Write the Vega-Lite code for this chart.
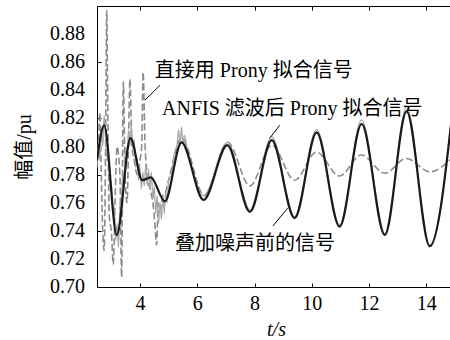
{
  "$schema": "https://vega.github.io/schema/vega-lite/v6.json",
  "width": 358,
  "height": 281,
  "autosize": "none",
  "padding": {"left": 97, "top": 6, "right": 0, "bottom": 53},
  "background": "white",
  "config": {
    "view": {"stroke": "black", "strokeWidth": 1},
    "axis": {
      "labelFont": "Liberation Serif, Times New Roman, serif",
      "labelFontSize": 20,
      "labelColor": "black",
      "labelOverlap": false,
      "titleFont": "Liberation Serif, Noto Sans CJK SC",
      "titleFontSize": 20,
      "titleFontWeight": "normal",
      "titleColor": "black",
      "grid": false,
      "domain": false,
      "tickColor": "black",
      "tickSize": -4
    }
  },
  "resolve": {"axis": {"x": "independent"}},
  "datasets": {
    "direct": [
      {"t": 2.50, "v": 0.790}, {"t": 2.55, "v": 0.800}, {"t": 2.60, "v": 0.824}, {"t": 2.65, "v": 0.780},
      {"t": 2.70, "v": 0.740}, {"t": 2.75, "v": 0.726}, {"t": 2.80, "v": 0.800}, {"t": 2.84, "v": 0.897},
      {"t": 2.88, "v": 0.820}, {"t": 2.93, "v": 0.750}, {"t": 3.00, "v": 0.740}, {"t": 3.07, "v": 0.716},
      {"t": 3.13, "v": 0.760}, {"t": 3.20, "v": 0.800}, {"t": 3.30, "v": 0.780}, {"t": 3.36, "v": 0.707},
      {"t": 3.42, "v": 0.846}, {"t": 3.48, "v": 0.780}, {"t": 3.55, "v": 0.760}, {"t": 3.60, "v": 0.800},
      {"t": 3.65, "v": 0.848}, {"t": 3.72, "v": 0.800}, {"t": 3.80, "v": 0.790}, {"t": 3.90, "v": 0.780},
      {"t": 4.00, "v": 0.790}, {"t": 4.06, "v": 0.800}, {"t": 4.11, "v": 0.853}, {"t": 4.18, "v": 0.800},
      {"t": 4.25, "v": 0.780}, {"t": 4.35, "v": 0.770}, {"t": 4.45, "v": 0.760}, {"t": 4.52, "v": 0.745},
      {"t": 4.58, "v": 0.730}, {"t": 4.64, "v": 0.760}, {"t": 4.70, "v": 0.755}, {"t": 4.80, "v": 0.765},
      {"t": 4.90, "v": 0.768}, {"t": 5.00, "v": 0.776}, {"t": 5.45, "v": 0.806}, {"t": 6.25, "v": 0.765},
      {"t": 7.06, "v": 0.803}, {"t": 7.84, "v": 0.772}, {"t": 8.60, "v": 0.801}, {"t": 9.40, "v": 0.776},
      {"t": 10.16, "v": 0.796}, {"t": 10.97, "v": 0.779}, {"t": 11.73, "v": 0.794}, {"t": 12.55, "v": 0.781},
      {"t": 13.30, "v": 0.7915}, {"t": 14.12, "v": 0.782}, {"t": 14.95, "v": 0.793}
    ],
    "anfis": [
      {"t": 2.50, "v": 0.785}, {"t": 2.55, "v": 0.800}, {"t": 2.60, "v": 0.790}, {"t": 2.65, "v": 0.812},
      {"t": 2.70, "v": 0.800}, {"t": 2.75, "v": 0.822}, {"t": 2.80, "v": 0.805}, {"t": 2.85, "v": 0.790},
      {"t": 2.90, "v": 0.798}, {"t": 2.95, "v": 0.770}, {"t": 3.00, "v": 0.775}, {"t": 3.05, "v": 0.752},
      {"t": 3.10, "v": 0.758}, {"t": 3.15, "v": 0.733}, {"t": 3.20, "v": 0.745}, {"t": 3.25, "v": 0.728},
      {"t": 3.30, "v": 0.760}, {"t": 3.35, "v": 0.750}, {"t": 3.40, "v": 0.782}, {"t": 3.45, "v": 0.775},
      {"t": 3.50, "v": 0.800}, {"t": 3.55, "v": 0.792}, {"t": 3.60, "v": 0.812}, {"t": 3.65, "v": 0.800},
      {"t": 3.70, "v": 0.815}, {"t": 3.75, "v": 0.798}, {"t": 3.80, "v": 0.805}, {"t": 3.85, "v": 0.785},
      {"t": 3.90, "v": 0.792}, {"t": 3.95, "v": 0.776}, {"t": 4.00, "v": 0.786}, {"t": 4.05, "v": 0.770},
      {"t": 4.10, "v": 0.782}, {"t": 4.15, "v": 0.772}, {"t": 4.20, "v": 0.786}, {"t": 4.25, "v": 0.772},
      {"t": 4.30, "v": 0.784}, {"t": 4.35, "v": 0.770}, {"t": 4.40, "v": 0.782}, {"t": 4.45, "v": 0.762},
      {"t": 4.50, "v": 0.772}, {"t": 4.55, "v": 0.752}, {"t": 4.60, "v": 0.765}, {"t": 4.65, "v": 0.745},
      {"t": 4.70, "v": 0.760}, {"t": 4.75, "v": 0.748}, {"t": 4.80, "v": 0.766}, {"t": 4.85, "v": 0.752},
      {"t": 4.90, "v": 0.768}, {"t": 4.95, "v": 0.760}, {"t": 5.00, "v": 0.776}, {"t": 5.10, "v": 0.780},
      {"t": 5.20, "v": 0.795}, {"t": 5.30, "v": 0.802}, {"t": 5.35, "v": 0.812}, {"t": 5.40, "v": 0.800},
      {"t": 5.45, "v": 0.814}, {"t": 5.50, "v": 0.802}, {"t": 5.55, "v": 0.808}, {"t": 5.65, "v": 0.798},
      {"t": 5.80, "v": 0.785}, {"t": 6.22, "v": 0.765}, {"t": 7.06, "v": 0.803}, {"t": 7.84, "v": 0.755},
      {"t": 8.60, "v": 0.807}, {"t": 9.40, "v": 0.750}, {"t": 10.17, "v": 0.812}, {"t": 10.97, "v": 0.744},
      {"t": 11.74, "v": 0.819}, {"t": 12.55, "v": 0.738}, {"t": 13.31, "v": 0.828}, {"t": 14.12, "v": 0.730},
      {"t": 14.95, "v": 0.834}
    ],
    "original": [
      {"t": 2.50, "v": 0.790}, {"t": 2.75, "v": 0.815}, {"t": 3.19, "v": 0.737}, {"t": 3.67, "v": 0.806},
      {"t": 4.08, "v": 0.776}, {"t": 4.38, "v": 0.778}, {"t": 4.87, "v": 0.761}, {"t": 5.45, "v": 0.803},
      {"t": 6.22, "v": 0.762}, {"t": 7.05, "v": 0.801}, {"t": 7.84, "v": 0.7535}, {"t": 8.60, "v": 0.8045},
      {"t": 9.40, "v": 0.749}, {"t": 10.17, "v": 0.810}, {"t": 10.97, "v": 0.743}, {"t": 11.74, "v": 0.816},
      {"t": 12.55, "v": 0.737}, {"t": 13.31, "v": 0.825}, {"t": 14.12, "v": 0.729}, {"t": 14.95, "v": 0.832}
    ],
    "labels": [
      {"t": 4.52, "v": 0.8535, "text": "直接用 Prony 拟合信号"},
      {"t": 4.77, "v": 0.8265, "text": "ANFIS 滤波后 Prony 拟合信号"},
      {"t": 5.22, "v": 0.7306, "text": "叠加噪声前的信号"}
    ],
    "leaders": [
      {"t": 4.70, "v": 0.8436, "t2": 4.17, "v2": 0.8329},
      {"t": 8.88, "v": 0.8151, "t2": 8.53, "v2": 0.8059},
      {"t": 8.64, "v": 0.7434, "t2": 9.16, "v2": 0.7561}
    ],
    "yticks": [
      {"t": 2.5, "v": 0.70, "text": "0.70"}, {"t": 2.5, "v": 0.72, "text": "0.72"},
      {"t": 2.5, "v": 0.74, "text": "0.74"}, {"t": 2.5, "v": 0.76, "text": "0.76"},
      {"t": 2.5, "v": 0.78, "text": "0.78"}, {"t": 2.5, "v": 0.80, "text": "0.80"},
      {"t": 2.5, "v": 0.82, "text": "0.82"}, {"t": 2.5, "v": 0.84, "text": "0.84"},
      {"t": 2.5, "v": 0.86, "text": "0.86"}, {"t": 2.5, "v": 0.88, "text": "0.88"}
    ]
  },
  "layer": [
    {
      "data": {"name": "direct"},
      "mark": {"type": "line", "interpolate": "monotone", "color": "#8c8c8c", "strokeWidth": 1.6, "strokeDash": [7, 3], "clip": true},
      "encoding": {
        "x": {"field": "t", "type": "quantitative", "scale": {"domain": [2.5, 15], "nice": false, "zero": false},
              "axis": {"orient": "bottom", "values": [4, 6, 8, 10, 12, 14], "title": "t/s", "labelOverlap": false, "labelPadding": 10, "titlePadding": 6, "titleFontStyle": "italic"}},
        "y": {"field": "v", "type": "quantitative", "scale": {"domain": [0.70, 0.90], "nice": false, "zero": false},
              "axis": {"values": [0.70, 0.72, 0.74, 0.76, 0.78, 0.80, 0.82, 0.84, 0.86, 0.88], "labels": false, "title": "幅值/pu", "titlePadding": 62}}
      }
    },
    {
      "data": {"name": "anfis"},
      "mark": {"type": "line", "interpolate": "monotone", "color": "#a6a6a6", "strokeWidth": 1.2, "clip": true},
      "encoding": {
        "x": {"field": "t", "type": "quantitative",
              "axis": {"orient": "top", "values": [4, 6, 8, 10, 12, 14], "labels": false, "title": null}},
        "y": {"field": "v", "type": "quantitative"}
      }
    },
    {
      "data": {"name": "original"},
      "mark": {"type": "line", "interpolate": "monotone", "color": "#1a1a1a", "strokeWidth": 2.2, "clip": true},
      "encoding": {
        "x": {"field": "t", "type": "quantitative", "axis": null},
        "y": {"field": "v", "type": "quantitative"}
      }
    },
    {
      "data": {"name": "leaders"},
      "mark": {"type": "rule", "color": "black", "strokeWidth": 1},
      "encoding": {
        "x": {"field": "t", "type": "quantitative", "axis": null},
        "y": {"field": "v", "type": "quantitative"},
        "x2": {"field": "t2"},
        "y2": {"field": "v2"}
      }
    },
    {
      "data": {"name": "labels"},
      "mark": {"type": "text", "align": "left", "baseline": "middle", "font": "Liberation Serif, Noto Sans CJK SC", "fontSize": 20, "color": "black"},
      "encoding": {
        "x": {"field": "t", "type": "quantitative", "axis": null},
        "y": {"field": "v", "type": "quantitative"},
        "text": {"field": "text"}
      }
    },
    {
      "data": {"name": "yticks"},
      "mark": {"type": "text", "align": "right", "baseline": "middle", "dx": -12, "font": "Liberation Serif, Times New Roman, serif", "fontSize": 20, "color": "black"},
      "encoding": {
        "x": {"field": "t", "type": "quantitative", "axis": null},
        "y": {"field": "v", "type": "quantitative"},
        "text": {"field": "text"}
      }
    }
  ]
}
